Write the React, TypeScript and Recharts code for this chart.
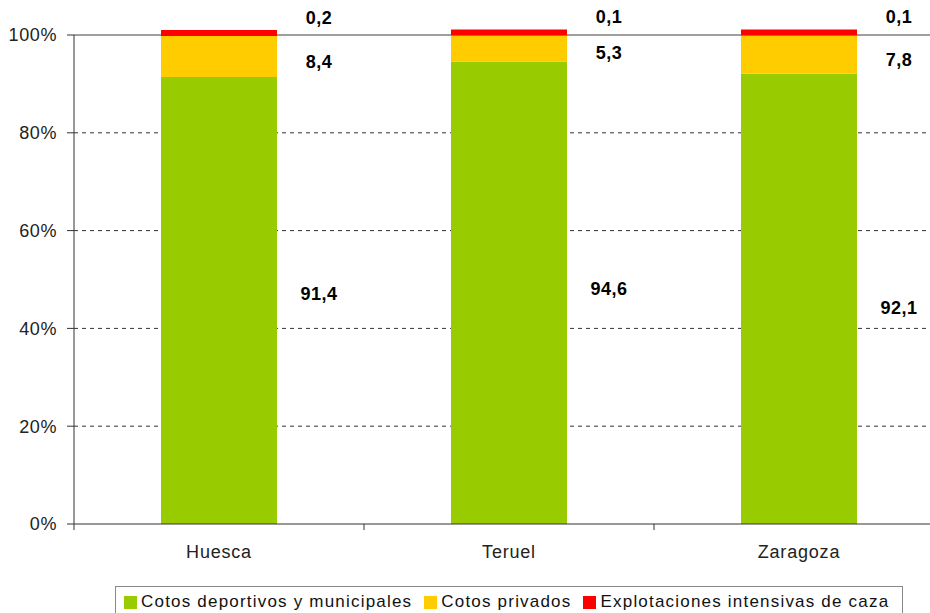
import React from 'react';
import { BarChart, Bar, XAxis, YAxis, CartesianGrid, LabelList } from 'recharts';

// Hunting grounds by type per province (percent of area)
const categories = ['Huesca', 'Teruel', 'Zaragoza'];
const cotosDeportivos = [91.4, 94.6, 92.1];
const cotosPrivados = [8.4, 5.3, 7.8];
const explotaciones = [0.2, 0.1, 0.1];
const yTicks = [0, 20, 40, 60, 80, 100];

const seriesNames = [
  'Cotos deportivos y municipales',
  'Cotos privados',
  'Explotaciones intensivas de caza',
];

// hand-placed label nudges seen in the original (px)
const greenNudge = [-7, -4, 9];

const W = 944;
const H = 613;
const LEFT = 74;
const BAND = (W - LEFT) / categories.length;
const FONT = '"Liberation Sans", Arial, sans-serif';
const GREEN = '#99CC00';
const YELLOW = '#FFCC00';
const RED = '#FF0000';

const data = categories.map((name, i) => ({
  name,
  dep: cotosDeportivos[i],
  priv: cotosPrivados[i],
  expl: explotaciones[i],
}));

const fmt = (v: number) => String(v).replace('.', ',');

const labelStyle = {
  fontFamily: FONT,
  fontSize: 18,
  fontWeight: 700,
  letterSpacing: 0.5,
  fill: '#000',
};

function GreenLabel(p: any) {
  const { x, y, width, height, value, index } = p;
  return (
    <text x={x + width + 42} y={y + height / 2 + greenNudge[index] + 6} textAnchor="middle" style={labelStyle}>
      {fmt(value)}
    </text>
  );
}

function YellowLabel(p: any) {
  const { x, y, width, height, value } = p;
  return (
    <text x={x + width + 42} y={y + height / 2 + 11} textAnchor="middle" style={labelStyle}>
      {fmt(value)}
    </text>
  );
}

function RedLabel(p: any) {
  const { x, y, width, value } = p;
  return (
    <text x={x + width + 42} y={y - 6} textAnchor="middle" style={labelStyle}>
      {fmt(value)}
    </text>
  );
}

function CatTick(p: any) {
  const { x, y, payload, index } = p;
  const axisY = y - 8;
  return (
    <g>
      <line x1={x - BAND / 2} x2={x - BAND / 2} y1={axisY} y2={axisY + 6} stroke="#333" />
      {index === categories.length - 1 && (
        <line x1={x + BAND / 2} x2={x + BAND / 2} y1={axisY} y2={axisY + 6} stroke="#333" />
      )}
      <text
        x={x}
        y={axisY + 34}
        textAnchor="middle"
        style={{ fontFamily: FONT, fontSize: 18, letterSpacing: 0.8, fill: '#222' }}
      >
        {payload.value}
      </text>
    </g>
  );
}

function GridLine(p: any) {
  const { x1, x2, y1, y2 } = p;
  if (y1 < 40) {
    return <line x1={x1} x2={x2} y1={y1} y2={y2} stroke="#999" strokeWidth={1.5} />;
  }
  if (y1 > H - 100) return <g />;
  return <line x1={x1} x2={x2} y1={y1} y2={y2} stroke="#333" strokeDasharray="4 4" />;
}

export default function App() {
  const colors = [GREEN, YELLOW, RED];
  return (
    <div style={{ position: 'fixed', left: 0, top: 0, width: 930, height: 613, overflow: 'hidden', background: '#fff' }}>
      <BarChart width={W} height={H} data={data} margin={{ top: 35, right: 0, bottom: 59, left: 0 }}>
        <CartesianGrid vertical={false} horizontal={(props: any) => <GridLine {...props} />} />
        <XAxis
          dataKey="name"
          height={30}
          axisLine={{ stroke: '#333' }}
          tickLine={false}
          tick={<CatTick />}
          interval={0}
        />
        <YAxis
          width={LEFT}
          domain={[0, 100]}
          ticks={yTicks}
          tickFormatter={(v: number) => `${v}%`}
          axisLine={{ stroke: '#333' }}
          tickLine={{ stroke: '#333' }}
          tickSize={7}
          tickMargin={10}
          tick={{ fontFamily: FONT, fontSize: 18, letterSpacing: 0.6, fill: '#222' }}
        />
        <Bar dataKey="dep" stackId="a" fill={GREEN} barSize={116} isAnimationActive={false}>
          <LabelList dataKey="dep" content={<GreenLabel />} />
        </Bar>
        <Bar dataKey="priv" stackId="a" fill={YELLOW} barSize={116} isAnimationActive={false}>
          <LabelList dataKey="priv" content={<YellowLabel />} />
        </Bar>
        <Bar dataKey="expl" stackId="a" fill={RED} barSize={116} minPointSize={6} isAnimationActive={false}>
          <LabelList dataKey="expl" content={<RedLabel />} />
        </Bar>
      </BarChart>
      <div
        style={{
          position: 'absolute',
          left: 115,
          top: 586,
          width: 788,
          height: 34,
          border: '1px solid #888',
          display: 'flex',
          alignItems: 'flex-start',
          paddingTop: 5,
          boxSizing: 'border-box',
          fontFamily: FONT,
          fontSize: 17,
          letterSpacing: 1.2,
          color: '#111',
          whiteSpace: 'nowrap',
        }}
      >
        {seriesNames.map((n, i) => (
          <div key={n} style={{ display: 'flex', alignItems: 'center', marginLeft: i === 0 ? 8 : 12 }}>
            <span style={{ width: 13, height: 13, background: colors[i], marginRight: 4, display: 'inline-block' }} />
            <span style={{ lineHeight: '20px' }}>{n}</span>
          </div>
        ))}
      </div>
    </div>
  );
}
